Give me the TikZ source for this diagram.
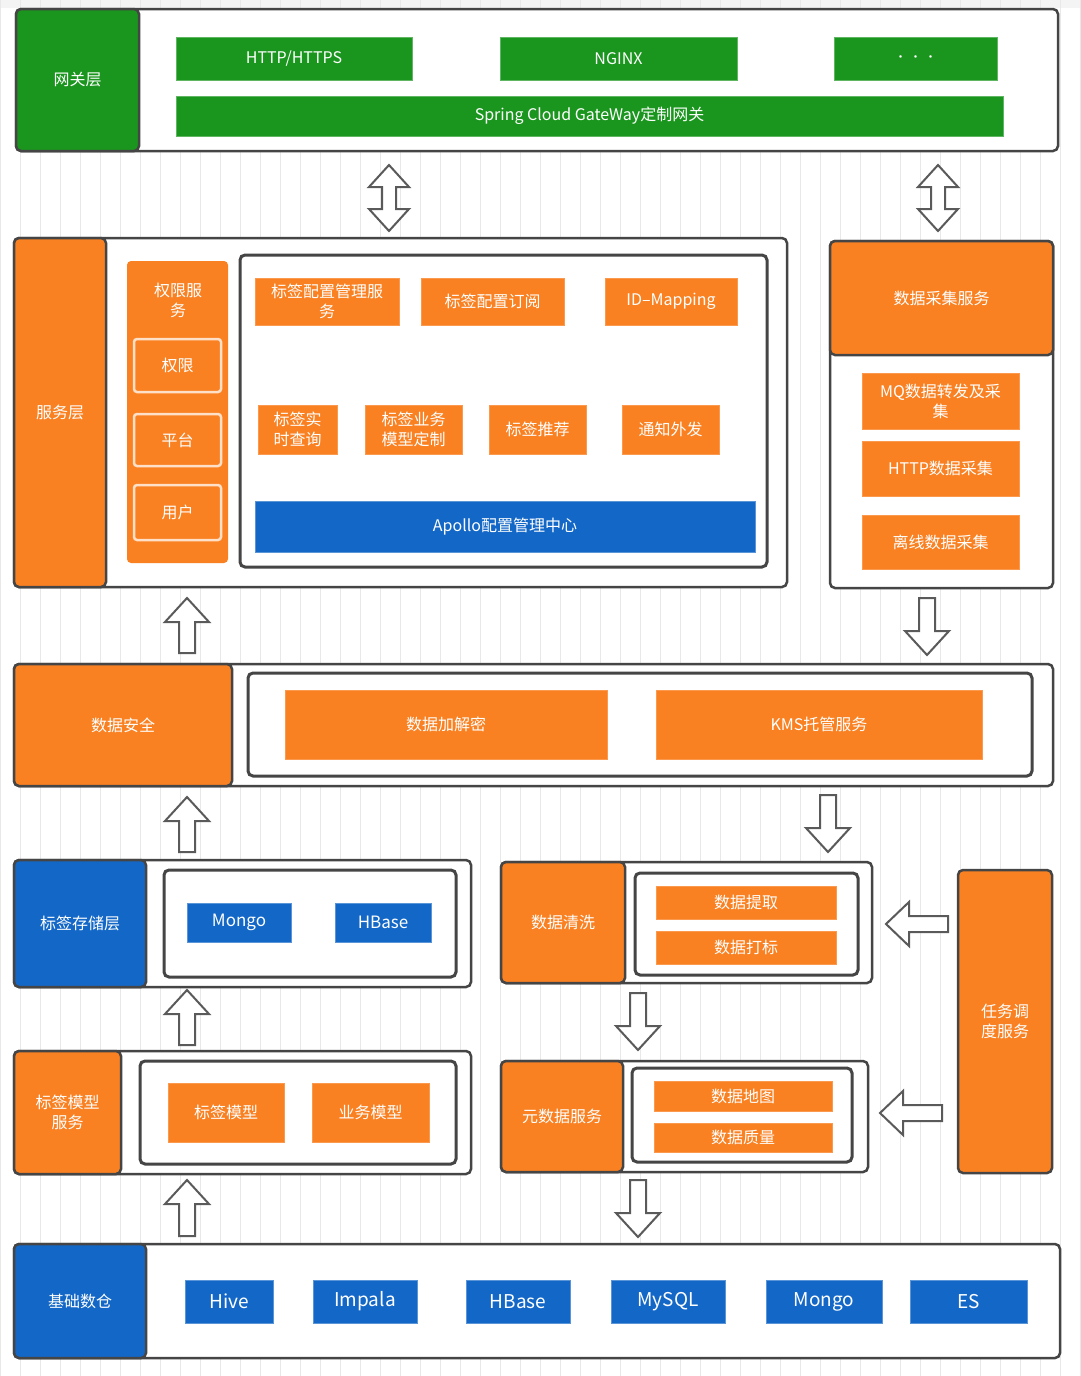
\documentclass[tikz,border=0pt]{standalone}
\usepackage{fontspec}
\setmainfont{Noto Sans CJK SC}
\definecolor{gr}{HTML}{1A961E}
\definecolor{org}{HTML}{FA8122}
\definecolor{blu}{HTML}{1367C7}
\definecolor{bd}{HTML}{454545}
\definecolor{gridc}{HTML}{E8E8E8}
\definecolor{arrc}{HTML}{5A5A5A}
\newcommand\bx[7]{\node[#2, minimum width={(#5-#3)*1pt}, minimum height={(#6-#4)*1pt}] (#1) at ({(#3+#5)/2},{(#4+#6)/2}) {#7};}
\newcommand\uparr[4]{% name, x, ytop, ybot
  \coordinate (#1) at (#2,#3);
  \draw[blockarr] (#2,#3) -- ({#2+22},{#3+24}) -- ({#2+8},{#3+24}) -- ({#2+8},#4) -- ({#2-8},#4) -- ({#2-8},{#3+24}) -- ({#2-22},{#3+24}) -- cycle;}
\newcommand\downarr[4]{% name, x, ytop, ybot
  \coordinate (#1) at (#2,#4);
  \draw[blockarr] (#2,#4) -- ({#2+22},{#4-24}) -- ({#2+8},{#4-24}) -- ({#2+8},#3) -- ({#2-8},#3) -- ({#2-8},{#4-24}) -- ({#2-22},{#4-24}) -- cycle;}
\newcommand\leftarr[4]{% name, y, xleft, xright
  \coordinate (#1) at (#3,#2);
  \draw[blockarr] (#3,#2) -- ({#3+23},{#2-22}) -- ({#3+23},{#2-8}) -- (#4,{#2-8}) -- (#4,{#2+8}) -- ({#3+23},{#2+8}) -- ({#3+23},{#2+22}) -- cycle;}
\newcommand\dblarr[4]{% name, x, ytop, ybot
  \coordinate (#1) at (#2,#3);
  \draw[blockarr] (#2,#3) -- ({#2+20},{#3+22}) -- ({#2+7},{#3+22}) -- ({#2+7},{#4-22}) -- ({#2+20},{#4-22}) -- (#2,#4) -- ({#2-20},{#4-22}) -- ({#2-7},{#4-22}) -- ({#2-7},{#3+22}) -- ({#2-20},{#3+22}) -- cycle;}
\begin{document}
\begin{tikzpicture}[x=1pt,y=-1pt,
  every node/.style={font=\fontsize{16}{20}\selectfont, inner sep=0pt, align=center},
  outer/.style={draw=bd, line width=2.5pt, rounded corners=5pt, fill=white},
  lab/.style={draw=bd, line width=2.5pt, rounded corners=5pt, text=white},
  inner/.style={draw=bd, line width=3pt, rounded corners=5pt, fill=white},
  gitem/.style={fill=gr, draw=gr!70!white, line width=0.8pt, text=white},
  oitem/.style={fill=org, draw=org!80!white, line width=0.8pt, text=white},
  bitem/.style={fill=blu, draw=blu!70!white, line width=0.8pt, text=white},
  wframe/.style={fill=org, draw=white!75!org, line width=2.5pt, rounded corners=3pt, text=white},
  blockarr/.style={draw=arrc, fill=white, line width=2pt, line join=miter}
]
\useasboundingbox (0,0) rectangle (1080,1376);
\fill[white] (0,0) rectangle (1080,1376);
\fill[gridc!50!white] (0,0) rectangle (1080,8);
\draw[gridc, line width=1pt, step=20] (0,0) grid (1080,1376);

% ---- Gateway layer
\bx{gwo}{outer}{16}{9}{1058}{151}{}
\bx{gw}{lab, fill=gr}{16}{9}{139}{151}{网关层}
\bx{http}{gitem}{176}{37}{412}{80}{HTTP/HTTPS}
\bx{nginx}{gitem}{500}{37}{737}{80}{NGINX}
\bx{dots}{gitem, font=\fontsize{12}{14}\selectfont}{834}{37}{997}{80}{·\hspace{3pt}·\hspace{3pt}·}
\bx{spring}{gitem}{176}{96}{1003}{136}{Spring Cloud GateWay定制网关}

\dblarr{a1}{389}{165}{231}
\dblarr{a2}{938}{165}{231}

% ---- Service layer
\bx{svo}{outer}{14}{238}{787}{587}{}
\bx{sv}{lab, fill=org}{14}{238}{106}{587}{服务层}
\node[fill=org, rounded corners=4pt, minimum width=101pt, minimum height=302pt] (qx) at (177.5,412) {};
\node[text=white] (qxt) at (178,300) {权限服\\务};
\bx{qx1}{wframe}{134}{339}{221}{392}{权限}
\bx{qx2}{wframe}{134}{414}{221}{466}{平台}
\bx{qx3}{wframe}{134}{485}{221}{540}{用户}
\bx{svi}{inner}{240}{255}{767}{567}{}
\bx{s1}{oitem}{255}{278}{399}{325}{标签配置管理服\\务}
\bx{s2}{oitem}{421}{278}{564}{325}{标签配置订阅}
\bx{s3}{oitem}{605}{278}{737}{325}{ID–Mapping}
\bx{s4}{oitem}{258}{405}{337}{454}{标签实\\时查询}
\bx{s5}{oitem}{365}{405}{462}{454}{标签业务\\模型定制}
\bx{s6}{oitem}{489}{405}{586}{454}{标签推荐}
\bx{s7}{oitem}{622}{405}{719}{454}{通知外发}
\bx{apollo}{bitem}{255}{501}{755}{552}{Apollo配置管理中心}

% ---- Data collection
\bx{dco}{outer}{830}{241}{1053}{588}{}
\bx{dc}{lab, fill=org}{830}{241}{1053}{355}{数据采集服务}
\bx{dc1}{oitem}{862}{373}{1019}{429}{MQ数据转发及采\\集}
\bx{dc2}{oitem}{862}{441}{1019}{496}{HTTP数据采集}
\bx{dc3}{oitem}{862}{515}{1019}{569}{离线数据采集}

\uparr{a3}{187}{598}{653}
\downarr{a4}{927}{598}{655}

% ---- Data security
\bx{dso}{outer}{14}{664}{1053}{786}{}
\bx{ds}{lab, fill=org}{14}{664}{232}{786}{数据安全}
\bx{dsi}{inner}{248}{673}{1032}{776}{}
\bx{ds1}{oitem}{285}{690}{607}{759}{数据加解密}
\bx{ds2}{oitem}{656}{690}{982}{759}{KMS托管服务}

\uparr{a5}{187}{797}{852}
\downarr{a6}{828}{795}{852}

% ---- Tag storage
\bx{tso}{outer}{14}{860}{471}{987}{}
\bx{ts}{lab, fill=blu}{14}{860}{146}{987}{标签存储层}
\bx{tsi}{inner}{164}{870}{456}{977}{}
\bx{ts1}{bitem, font=\fontsize{17}{20}\selectfont}{187}{903}{291}{942}{Mongo}
\bx{ts2}{bitem, font=\fontsize{17}{20}\selectfont}{335}{903}{431}{942}{HBase}

\uparr{a7}{187}{990}{1045}

% ---- Tag model
\bx{tmo}{outer}{14}{1051}{471}{1174}{}
\bx{tm}{lab, fill=org}{14}{1051}{121}{1174}{标签模型\\服务}
\bx{tmi}{inner}{140}{1061}{456}{1164}{}
\bx{tm1}{oitem}{168}{1083}{284}{1142}{标签模型}
\bx{tm2}{oitem}{312}{1083}{429}{1142}{业务模型}

\uparr{a8}{187}{1180}{1236}

% ---- Data cleaning
\bx{clo}{outer}{501}{862}{872}{983}{}
\bx{cl}{lab, fill=org}{501}{862}{625}{983}{数据清洗}
\bx{cli}{inner}{635}{873}{858}{975}{}
\bx{cl1}{oitem}{656}{886}{836}{919}{数据提取}
\bx{cl2}{oitem}{656}{931}{836}{964}{数据打标}

\downarr{a9}{638}{993}{1050}

% ---- Metadata
\bx{mdo}{outer}{501}{1061}{868}{1172}{}
\bx{md}{lab, fill=org}{501}{1061}{623}{1172}{元数据服务}
\bx{mdi}{inner}{632}{1068}{852}{1162}{}
\bx{md1}{oitem}{654}{1081}{832}{1111}{数据地图}
\bx{md2}{oitem}{654}{1123}{832}{1152}{数据质量}

\downarr{a10}{638}{1180}{1237}

% ---- Scheduler
\bx{sch}{lab, fill=org}{958}{870}{1052}{1173}{任务调\\度服务}
\leftarr{a11}{924}{886}{948}
\leftarr{a12}{1113}{880}{942}

% ---- Base warehouse
\bx{bwo}{outer}{14}{1244}{1060}{1358}{}
\bx{bw}{lab, fill=blu}{14}{1244}{146}{1358}{基础数仓}
\begin{scope}[every node/.append style={font=\fontsize{19}{22}\selectfont}]
\bx{b1}{bitem}{185}{1280}{273}{1323}{Hive}
\bx{b2}{bitem}{313}{1280}{417}{1323}{Impala}
\bx{b3}{bitem}{466}{1280}{570}{1323}{HBase}
\bx{b4}{bitem}{611}{1280}{725}{1323}{MySQL}
\bx{b5}{bitem}{766}{1280}{882}{1323}{Mongo}
\bx{b6}{bitem}{910}{1280}{1027}{1323}{ES}
\end{scope}
\end{tikzpicture}
\end{document}
